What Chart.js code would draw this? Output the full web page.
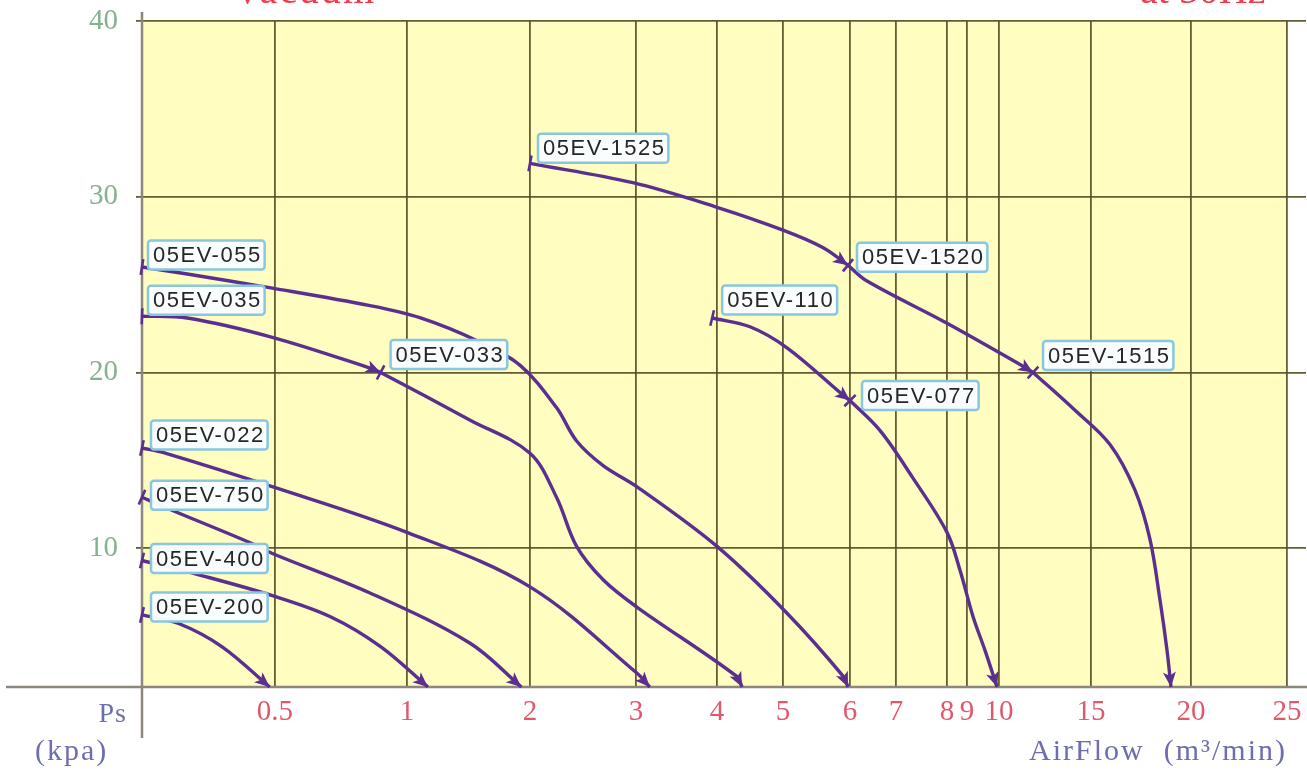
<!DOCTYPE html>
<html>
<head>
<meta charset="utf-8">
<script src="https://cdn.jsdelivr.net/npm/chart.js@4.4.1/dist/chart.umd.min.js"></script>
<style>
  html, body { margin: 0; padding: 0; background: #fff; overflow: hidden; }
  #wrap { width: 1307px; height: 778px; }
</style>
</head>
<body>
<div id="wrap"><canvas id="c" width="1307" height="778"></canvas></div>
<script>
// Fan performance curves: static pressure Ps (kPa) against air flow (m³/min)

const X_TICKS = [0.5, 1, 2, 3, 4, 5, 6, 7, 8, 9, 10, 15, 20, 25];
const Y_TICKS = [10, 20, 30, 40];

// [air flow m³/min, Ps kPa]
const EV200  = [[0, 6.2], [0.14, 5.7], [0.3, 4.4], [0.48, 2.1]];
const EV400  = [[0, 9.3], [0.21, 8.5], [0.49, 7.3], [0.71, 6.1], [0.9, 4.4], [1.17, 2.1]];
const EV750  = [[0, 12.9], [0.09, 12.3], [0.4, 10.35], [0.49, 9.7], [0.86, 7.45], [1.51, 4.6], [1.93, 2.1]];
const EV022  = [[0, 15.7], [0.09, 15.4], [0.51, 13.4], [1.0, 10.9], [2.0, 7.8], [3.01, 2.9], [3.17, 2.1]];
const EV035  = [[0, 23.2], [0.17, 23.1], [0.49, 22.0], [0.87, 20.2], [0.9, 20.0]];
const EV033  = [[0.9, 20.0], [1.51, 17.3], [2.0, 15.4], [2.25, 12.9], [2.44, 10.1], [2.69, 8.2], [3.01, 6.65], [4.3, 2.7], [4.38, 2.1]];
const EV055  = [[0, 26.0], [0.17, 25.6], [0.49, 24.8], [0.86, 23.8], [1.11, 23.1], [1.57, 21.8], [1.92, 20.4], [2.25, 18.0], [2.44, 16.1], [2.69, 14.7], [3.01, 13.5], [4.0, 10.1], [5.06, 6.3], [5.9, 2.7], [5.97, 2.1]];
const EV110  = [[3.94, 23.1], [4.5, 22.6], [5.06, 21.4], [5.9, 18.7], [6.0, 18.4]];
const EV077  = [[6.0, 18.4], [6.65, 16.7], [7.33, 14.0], [8.0, 10.9], [8.65, 8.75], [9.19, 6.1], [9.56, 4.2], [9.94, 2.1]];
const EV1525 = [[2.0, 31.9], [2.97, 30.8], [4.0, 29.4], [5.0, 28.1], [5.6, 27.1], [5.97, 26.1]];
const EV1520 = [[5.97, 26.1], [6.37, 25.2], [8.0, 22.8], [11.4, 20.3], [11.85, 20.0]];
const EV1515 = [[11.85, 20.0], [14.13, 17.85], [15.95, 15.9], [17.2, 13.3], [17.95, 10.5], [18.45, 7.05], [18.8, 4.2], [19.0, 2.1]];

const SERIES_NAMES = ['05EV-200', '05EV-400', '05EV-750', '05EV-022', '05EV-035', '05EV-033',
                      '05EV-055', '05EV-110', '05EV-077', '05EV-1525', '05EV-1520', '05EV-1515'];
const SERIES_DATA = [EV200, EV400, EV750, EV022, EV035, EV033, EV055, EV110, EV077, EV1525, EV1520, EV1515];

// Name tag placement relative to the first point of each curve: [dx to box left, dy to box middle]
const TAG_OFFSETS = {
  '05EV-200': [9, -8], '05EV-400': [9, -2], '05EV-750': [9, -2], '05EV-022': [9, -13],
  '05EV-035': [6, -16], '05EV-033': [10, -18], '05EV-055': [6, -12], '05EV-110': [10, -18],
  '05EV-077': [12, -5], '05EV-1525': [8, -15], '05EV-1520': [9, -8], '05EV-1515': [10, -17]
};

// The flow axis is drawn piecewise: each tick value sits at a fixed fraction of the axis width
const X_BREAKS = [0, 0.5, 1, 2, 3, 4, 5, 6, 7, 8, 9, 10, 15, 20, 25, 26];
const X_STOPS  = [0, 0.11426, 0.22766, 0.33333, 0.42440, 0.49399, 0.55069, 0.60825,
                  0.64777, 0.69158, 0.70876, 0.73625, 0.81529, 0.90120, 0.98368, 1];

function interp(v, from, to) {
  const n = from.length;
  if (v <= from[0]) return to[0] + (v - from[0]) * (to[1] - to[0]) / (from[1] - from[0]);
  for (let i = 1; i < n; i++) {
    if (v <= from[i]) {
      const t = (v - from[i - 1]) / (from[i] - from[i - 1]);
      return to[i - 1] + t * (to[i] - to[i - 1]);
    }
  }
  return to[n - 1] + (v - from[n - 1]) * (to[n - 1] - to[n - 2]) / (from[n - 1] - from[n - 2]);
}

class PiecewiseScale extends Chart.LinearScale {
  getPixelForValue(value) {
    if (value === null || value === undefined || isNaN(value)) return NaN;
    return this.getPixelForDecimal(interp(value, X_BREAKS, X_STOPS));
  }
  getValueForPixel(pixel) {
    return interp(this.getDecimalForPixel(pixel), X_STOPS, X_BREAKS);
  }
}
PiecewiseScale.id = 'piecewise';
PiecewiseScale.defaults = {};
Chart.register(PiecewiseScale);

const PURPLE = '#5b2f8f';
const GRID = 'rgba(88,78,36,0.92)';
const AXIS = '#8d867a';

function drawText(ctx, text, x, y, font, color, align, spacing) {
  ctx.save();
  ctx.font = font;
  ctx.fillStyle = color;
  ctx.textAlign = align;
  ctx.textBaseline = 'alphabetic';
  ctx.letterSpacing = spacing || '0px';
  ctx.fillText(text, x, y);
  ctx.restore();
}

const decor = {
  id: 'decor',
  beforeDraw(chart) {
    const { ctx, chartArea: a, scales: { x } } = chart;
    ctx.save();
    ctx.fillStyle = '#ffffff';
    ctx.fillRect(0, 0, chart.width, chart.height);
    ctx.fillStyle = '#fffdbf';
    const right = x.getPixelForValue(X_TICKS[X_TICKS.length - 1]);
    ctx.fillRect(a.left, a.top, right - a.left, a.bottom - a.top);
    ctx.restore();
  },
  beforeDatasetsDraw(chart) {
    const { ctx, chartArea: a } = chart;
    ctx.save();
    ctx.strokeStyle = AXIS;
    ctx.lineWidth = 2.5;
    ctx.beginPath();
    ctx.moveTo(a.left, a.top - 9);
    ctx.lineTo(a.left, a.bottom + 51);
    ctx.moveTo(6, a.bottom);
    ctx.lineTo(chart.width, a.bottom);
    ctx.stroke();
    ctx.restore();
  },
  afterDatasetsDraw(chart) {
    const { ctx } = chart;
    ctx.save();
    // start ticks and end arrows on each curve
    chart.data.datasets.forEach((ds, i) => {
      const pts = chart.getDatasetMeta(i).data;
      if (!pts.length) return;
      const p0 = pts[0], p1 = pts[1];
      let dx = (p0.cp2x !== undefined ? p0.cp2x : p1.x) - p0.x;
      let dy = (p0.cp2y !== undefined ? p0.cp2y : p1.y) - p0.y;
      if (Math.hypot(dx, dy) < 0.5) { dx = p1.x - p0.x; dy = p1.y - p0.y; }
      let len = Math.hypot(dx, dy);
      let ux = dx / len, uy = dy / len;
      ctx.strokeStyle = PURPLE;
      ctx.lineWidth = 2.6;
      ctx.beginPath();
      ctx.moveTo(p0.x - uy * 8, p0.y + ux * 8);
      ctx.lineTo(p0.x + uy * 8, p0.y - ux * 8);
      ctx.stroke();

      const pe = pts[pts.length - 1], pp = pts[pts.length - 2];
      dx = pe.x - (pe.cp1x !== undefined ? pe.cp1x : pp.x);
      dy = pe.y - (pe.cp1y !== undefined ? pe.cp1y : pp.y);
      if (Math.hypot(dx, dy) < 0.5) { dx = pe.x - pp.x; dy = pe.y - pp.y; }
      len = Math.hypot(dx, dy);
      ux = dx / len; uy = dy / len;
      const L = 15, W = 6.5;
      ctx.fillStyle = PURPLE;
      ctx.beginPath();
      ctx.moveTo(pe.x, pe.y);
      ctx.lineTo(pe.x - ux * L - uy * W, pe.y - uy * L + ux * W);
      ctx.lineTo(pe.x - ux * L * 0.75, pe.y - uy * L * 0.75);
      ctx.lineTo(pe.x - ux * L + uy * W, pe.y - uy * L - ux * W);
      ctx.closePath();
      ctx.fill();
    });

    // name tags
    ctx.font = '22px "Liberation Sans", Arial, sans-serif';
    ctx.letterSpacing = '1.5px';
    chart.data.datasets.forEach((ds, i) => {
      const p0 = chart.getDatasetMeta(i).data[0];
      const off = TAG_OFFSETS[ds.label];
      const w = ctx.measureText(ds.label).width + 8;
      const h = 29;
      const bx = p0.x + off[0], by = p0.y + off[1] - h / 2;
      ctx.fillStyle = 'rgba(249,253,255,0.97)';
      ctx.strokeStyle = '#88c7df';
      ctx.lineWidth = 2.5;
      ctx.beginPath();
      ctx.roundRect(bx, by, w, h, 3);
      ctx.fill();
      ctx.stroke();
      ctx.fillStyle = '#262626';
      ctx.textAlign = 'left';
      ctx.textBaseline = 'middle';
      ctx.fillText(ds.label, bx + 5, by + h / 2 + 1);
    });
    ctx.restore();
  },
  afterDraw(chart) {
    const { ctx } = chart;
    const serif = '"Liberation Serif", "Times New Roman", serif';
    drawText(ctx, 'Ps', 127, 722, '28px ' + serif, '#6d6db0', 'right', '1px');
    drawText(ctx, '(kpa)', 35, 760, '30px ' + serif, '#6d6db0', 'left', '2px');
    drawText(ctx, 'AirFlow  (m³/min)', 1287, 760, '30px ' + serif, '#6d6db0', 'right', '2px');
    drawText(ctx, 'Vacuum', 233, 3, '40px ' + serif, '#f23c4e', 'left', '2px');
    drawText(ctx, 'at 50Hz', 1140, 3, '40px ' + serif, '#f23c4e', 'left', '0px');
  }
};

const datasets = SERIES_NAMES.map((name, i) => ({
  label: name,
  data: SERIES_DATA[i].map(([x, y]) => ({ x, y })),
  borderColor: PURPLE,
  borderWidth: 3.4,
  pointRadius: 0,
  fill: false,
  tension: 0.35,
  clip: false
}));

new Chart(document.getElementById('c'), {
  type: 'line',
  data: { datasets },
  options: {
    responsive: false,
    devicePixelRatio: 1,
    animation: false,
    events: [],
    layout: { padding: { top: 21, right: 1, left: 0, bottom: 0 } },
    plugins: { legend: { display: false }, tooltip: { enabled: false } },
    scales: {
      x: {
        type: 'piecewise',
        min: 0,
        max: 26,
        afterBuildTicks: s => { s.ticks = X_TICKS.map(v => ({ value: v })); },
        afterFit: s => { s.height = 91; s.paddingLeft = 0; s.paddingRight = 0; },
        grid: { color: GRID, lineWidth: 1.8, drawTicks: false },
        border: { display: false },
        ticks: {
          autoSkip: false,
          maxRotation: 0,
          padding: 8,
          color: '#e0586c',
          font: { family: '"Liberation Serif", "Times New Roman", serif', size: 29 },
          callback: v => String(v)
        }
      },
      y: {
        type: 'linear',
        min: 2.1,
        max: 40,
        afterBuildTicks: s => { s.ticks = Y_TICKS.map(v => ({ value: v })); },
        afterFit: s => { s.width = 142; s.paddingTop = 0; s.paddingBottom = 0; },
        grid: { color: GRID, lineWidth: 1.8, drawTicks: true, tickLength: 6 },
        border: { display: false },
        ticks: {
          padding: 18,
          color: '#84b28d',
          font: { family: '"Liberation Serif", "Times New Roman", serif', size: 29 }
        }
      }
    }
  },
  plugins: [decor]
});
</script>
</body>
</html>
